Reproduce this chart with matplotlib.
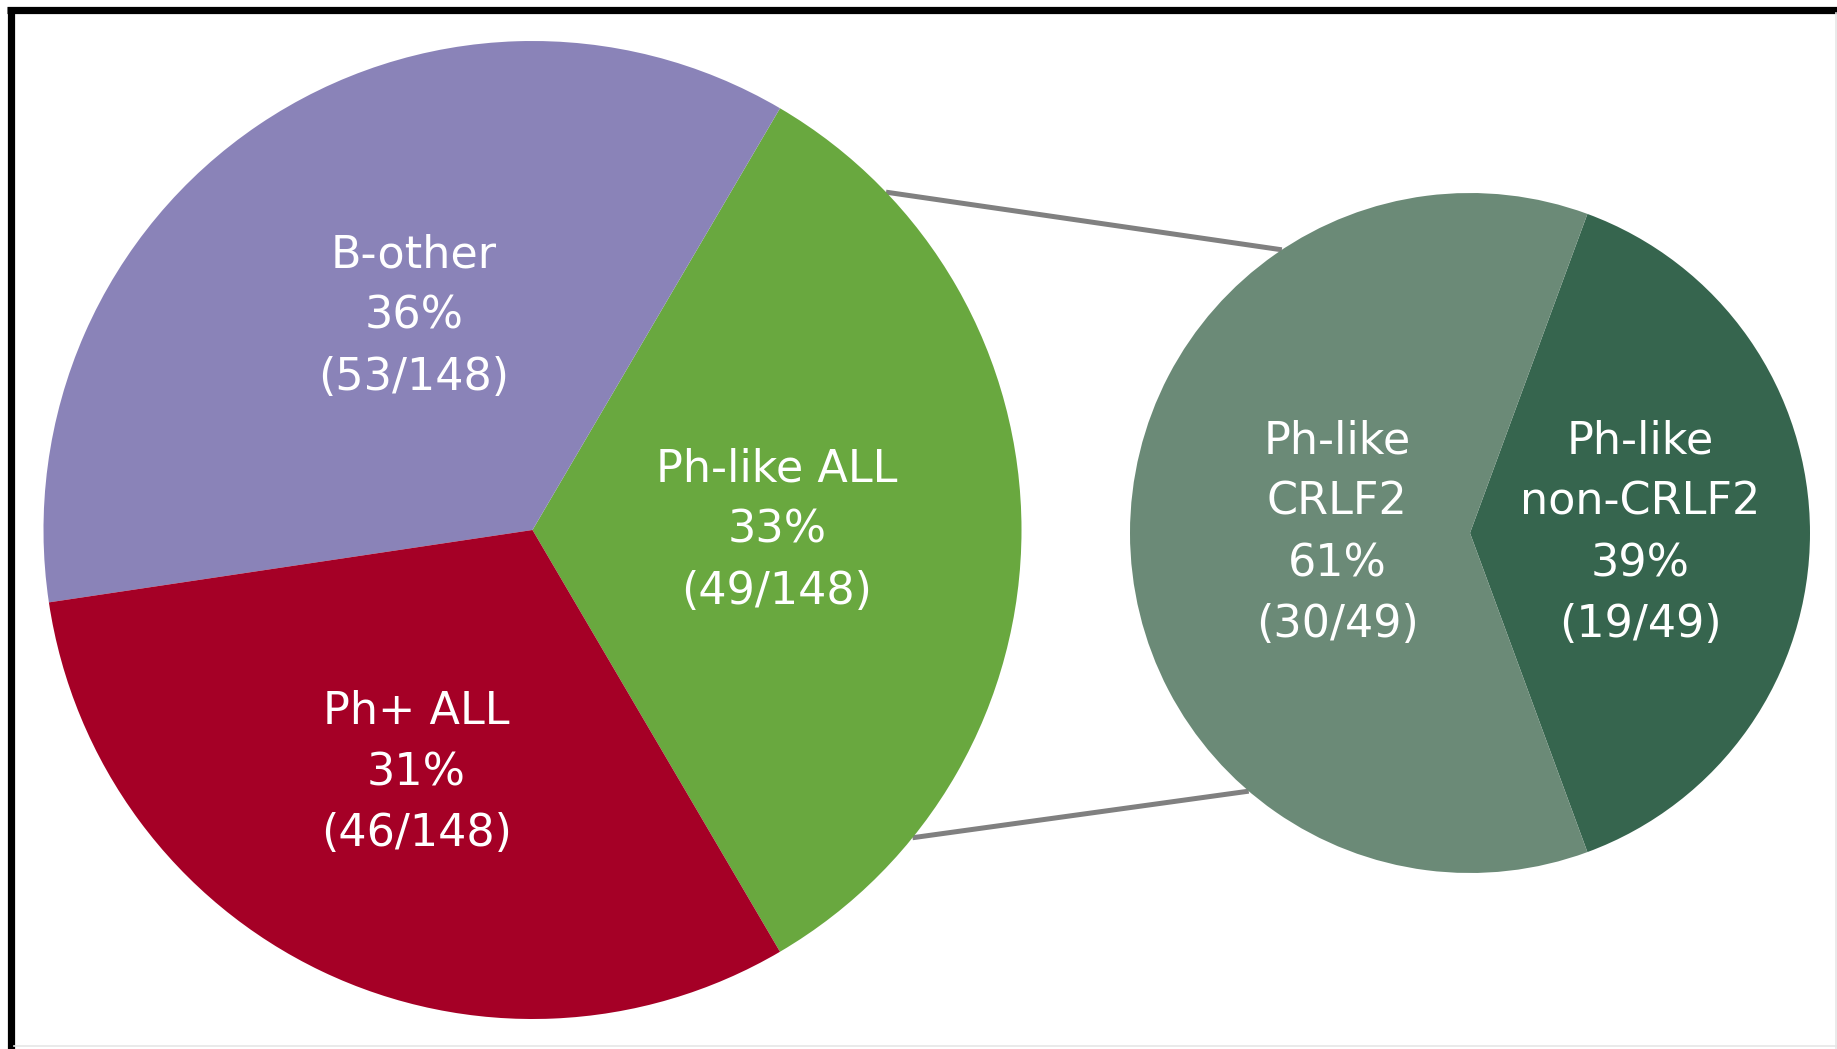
#!/usr/bin/env python3
"""Bar-of-pie style figure: ALL subtypes with a Ph-like breakdown."""

import numpy as np
import matplotlib
matplotlib.use("Agg")
import matplotlib.pyplot as plt
from matplotlib.lines import Line2D

# main pie (counter-clockwise from the Ph-like wedge)
main_labels = ["Ph-like ALL", "B-other", "Ph+ ALL"]
main_counts = [49, 53, 46]
main_total = 148
main_colors = ["#69a83f", "#8a83b8", "#a50026"]

# Ph-like breakdown
sub_labels = ["Ph-like\nnon-CRLF2", "Ph-like\nCRLF2"]
sub_counts = [19, 30]
sub_total = 49
sub_colors = ["#36654e", "#6b8a77"]

W, H = 1837, 1049
fig = plt.figure(figsize=(W / 100, H / 100), dpi=100)
ax = fig.add_axes([0, 0, 1, 1])

left_c, left_r = (532.5, 519.0), 489.0
right_c, right_r = (1470.0, 516.0), 340.0

main_start = -main_counts[0] / main_total * 360 / 2
sub_start = -sub_counts[0] / sub_total * 360 / 2

wl, _ = ax.pie(main_counts, colors=main_colors, startangle=main_start, counterclock=True,
               center=left_c, radius=left_r, wedgeprops=dict(linewidth=0))
wr, _ = ax.pie(sub_counts, colors=sub_colors, startangle=sub_start, counterclock=True,
               center=right_c, radius=right_r, wedgeprops=dict(linewidth=0))

txt = dict(color="white", fontsize=32, ha="center", va="center", linespacing=1.53,
           family="DejaVu Sans")


def label_wedges(wedges, labels, counts, total, center, radius, dists, shifts):
    # dists: fraction of radius; shifts: angle nudge in degrees
    for w, lab, n, d, s in zip(wedges, labels, counts, dists, shifts):
        ang = np.deg2rad((w.theta1 + w.theta2) / 2 + s)
        x = center[0] + d * radius * np.cos(ang)
        y = center[1] + d * radius * np.sin(ang)
        pct = round(100 * n / total)
        ax.text(x, y, f"{lab}\n{pct}%\n({n}/{total})", **txt)


label_wedges(wl, main_labels, main_counts, main_total, left_c, left_r,
             [0.5, 0.5, 0.55], [0, -5, 0])
label_wedges(wr, sub_labels, sub_counts, sub_total, right_c, right_r,
             [0.5, 0.39], [0, 0])

# connector lines between the pies
for a_left, a_right in [(43.7, 123.6), (-39.0, -130.6)]:
    p0 = (left_c[0] + left_r * np.cos(np.deg2rad(a_left)),
          left_c[1] + left_r * np.sin(np.deg2rad(a_left)))
    p1 = (right_c[0] + right_r * np.cos(np.deg2rad(a_right)),
          right_c[1] + right_r * np.sin(np.deg2rad(a_right)))
    ax.plot([p0[0], p1[0]], [p0[1], p1[1]], color="#808080", lw=3.6,
            solid_capstyle="butt", zorder=0)

ax.set_xlim(0, W)
ax.set_ylim(0, H)
ax.set_aspect("equal")
ax.axis("off")

# frame: heavy black on top and left, faint grey on right and bottom
fig.add_artist(Line2D([7 / W, 1], [1 - 9.5 / H, 1 - 9.5 / H], color="black", lw=5.2,
                      solid_capstyle="butt", transform=fig.transFigure))
fig.add_artist(Line2D([10.5 / W, 10.5 / W], [0, 1 - 7 / H], color="black", lw=5.2,
                      solid_capstyle="butt", transform=fig.transFigure))
fig.add_artist(Line2D([1 - 1.5 / W, 1 - 1.5 / W], [0, 1 - 13 / H], color="#e6e6e6", lw=1.2,
                      transform=fig.transFigure))
fig.add_artist(Line2D([14 / W, 1], [3 / H, 3 / H], color="#e6e6e6", lw=1.2,
                      transform=fig.transFigure))

fig.savefig("out.png", dpi=100, facecolor="white")
plt.close(fig)
